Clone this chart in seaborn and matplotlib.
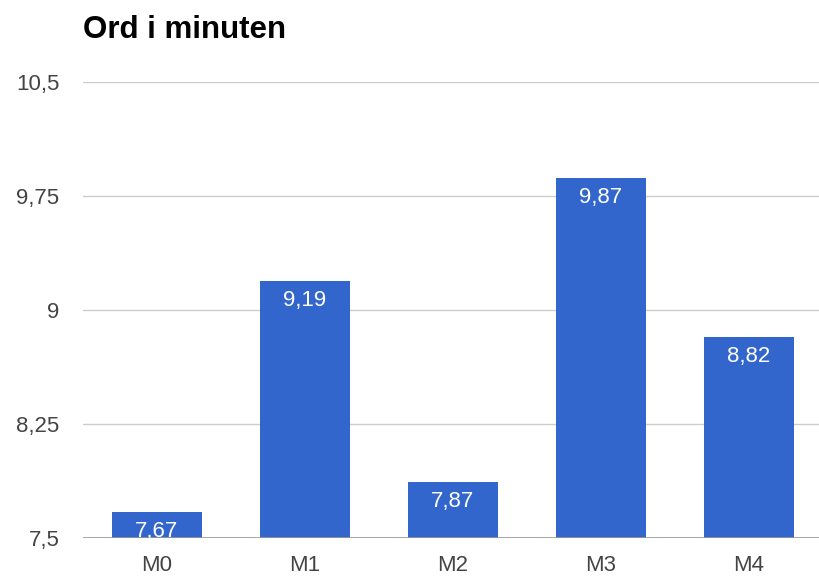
import matplotlib
matplotlib.use("Agg")
import matplotlib.pyplot as plt
import seaborn as sns
import pandas as pd

categories = ["M0", "M1", "M2", "M3", "M4"]
values = [7.67, 9.19, 7.87, 9.87, 8.82]
y_ticks = [7.5, 8.25, 9, 9.75, 10.5]
title = "Ord i minuten"

def fmt(v):
    s = f"{v:g}"
    return s.replace(".", ",")

sns.set_theme(style="white")
plt.rcParams["font.family"] = ["Liberation Sans", "DejaVu Sans"]

df = pd.DataFrame({"cat": categories, "val": values})

W, H = 820, 578
fig = plt.figure(figsize=(W / 100, H / 100), dpi=100)
ax = fig.add_axes([83 / W, 1 - 538 / H, (W - 83) / W, (538 - 82) / H])

base = y_ticks[0]
sns.barplot(data=df, x="cat", y="val", color="#3366cc", saturation=1,
            width=0.61, ax=ax)
for p in ax.patches:
    p.set_edgecolor("none")

ax.set_ylim(base, y_ticks[-1])
ax.set_xlim(-0.5, 4.48)
ax.set_yticks(y_ticks)
ax.set_yticklabels([fmt(t) for t in y_ticks])
ax.grid(axis="y", color="#cccccc", linewidth=1)
ax.set_axisbelow(True)
for s in ax.spines.values():
    s.set_visible(False)
ax.axhline(base, color="#999999", linewidth=1.2, zorder=1)

ax.set_xlabel("")
ax.set_ylabel("")
ax.tick_params(axis="both", length=0, labelsize=16, colors="#444444")
ax.tick_params(axis="y", pad=17)
ax.tick_params(axis="x", pad=12)

# value labels just inside the top of each bar
px_per_unit = (538 - 82) / (y_ticks[-1] - y_ticks[0])
for i, v in enumerate(values):
    ax.text(i, v - 25 / px_per_unit, fmt(v), ha="center", va="baseline",
            color="white", fontsize=16)

fig.text(83 / W, 1 - 38 / H, title, fontsize=22.5, fontweight="bold",
         color="#000000", ha="left", va="baseline")

fig.savefig("out.png", dpi=100)
